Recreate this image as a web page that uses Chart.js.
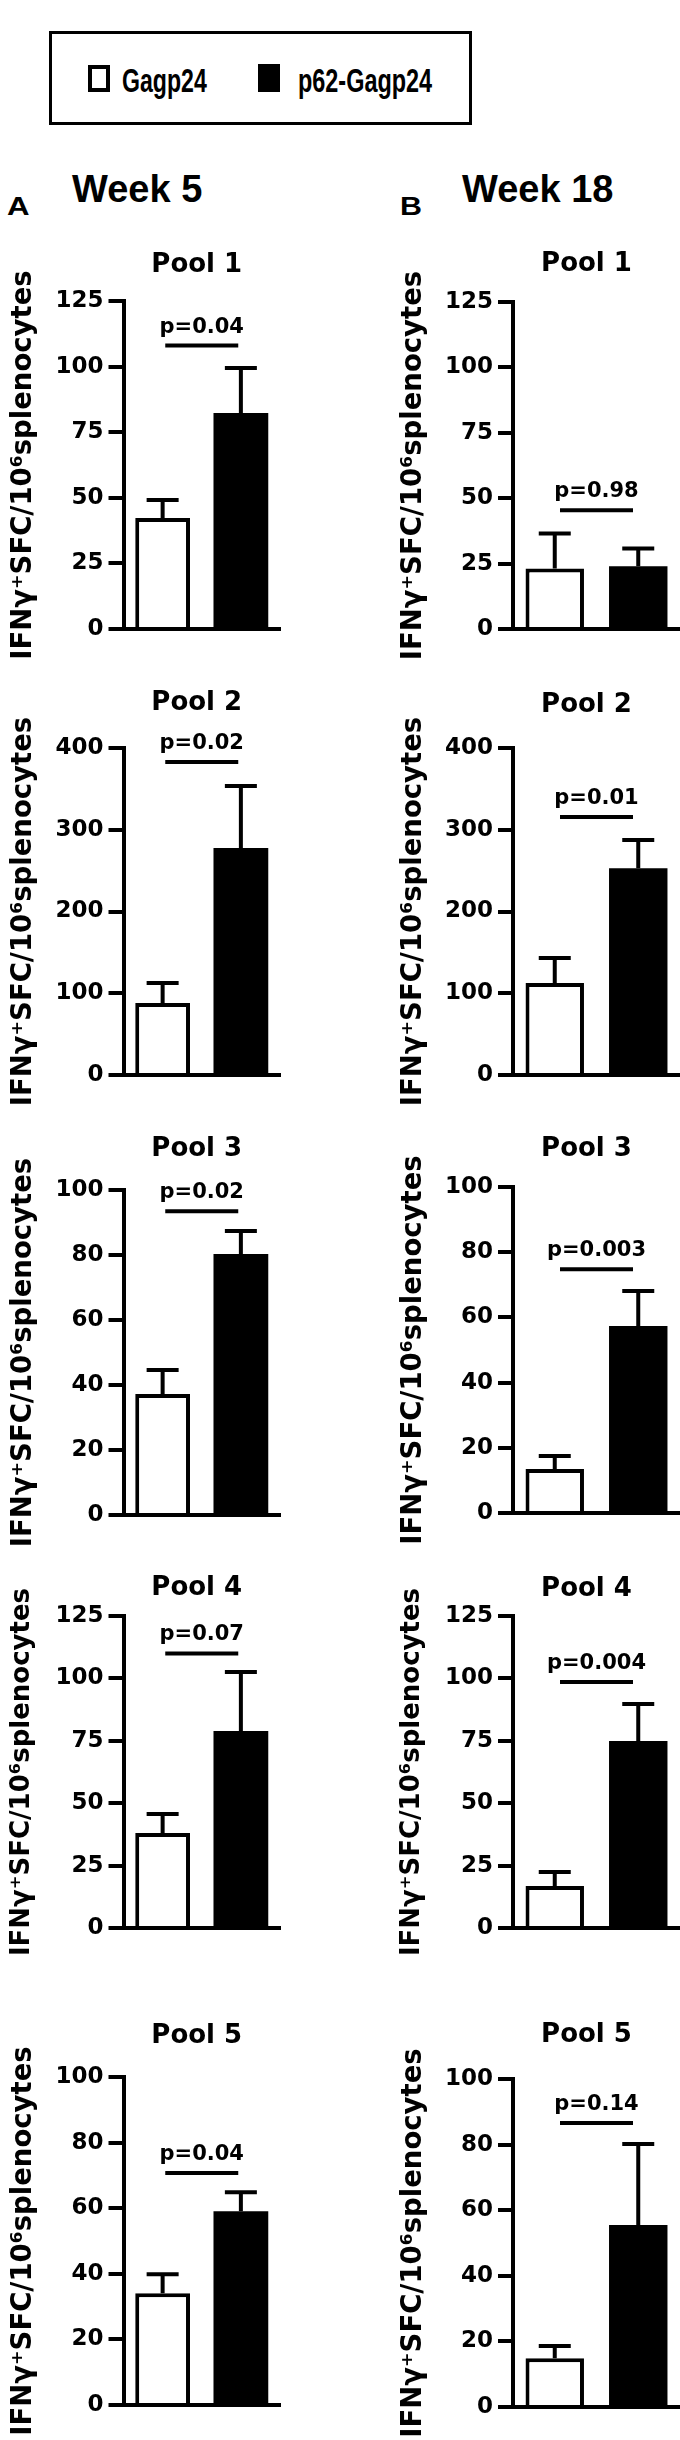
<!DOCTYPE html>
<html><head><meta charset="utf-8">
<script src="https://cdn.jsdelivr.net/npm/chart.js@4.4.1/dist/chart.umd.min.js"></script>
<style>
html,body{margin:0;padding:0;background:#fff;}
body{width:680px;height:2440px;position:relative;overflow:hidden;}
.abs{position:absolute;white-space:nowrap;color:#000;}
.lbl{font-family:'Liberation Sans',Arial,sans-serif;font-weight:bold;}
canvas{position:absolute;}
</style></head><body>
<div class="abs" style="left:49px;top:31px;width:423px;height:94px;border:3px solid #000;box-sizing:border-box;"></div>
<div class="abs" style="left:88px;top:65px;width:22px;height:27px;border:4px solid #000;box-sizing:border-box;background:#fff;"></div>
<div class="abs lbl" style="left:122px;top:64px;font-size:33px;line-height:33px;transform:scaleX(0.70);transform-origin:0 0;">Gagp24</div>
<div class="abs" style="left:258px;top:64px;width:22px;height:28px;background:#000;"></div>
<div class="abs lbl" style="left:298px;top:64px;font-size:33px;line-height:33px;transform:scaleX(0.71);transform-origin:0 0;">p62-Gagp24</div>
<div class="abs lbl" style="left:72px;top:170px;font-size:38px;line-height:38px;">Week 5</div>
<div class="abs lbl" style="left:462px;top:170px;font-size:38px;line-height:38px;">Week 18</div>
<div class="abs lbl" style="left:7px;top:193px;font-size:26px;line-height:26px;transform:scaleX(1.2);transform-origin:0 0;">A</div>
<div class="abs lbl" style="left:400px;top:193px;font-size:26px;line-height:26px;transform:scaleX(1.17);transform-origin:0 0;">B</div>
<script>
// ---- data ----
const groups = ['Gagp24', 'p62-Gagp24'];
const pools = ['Pool 1', 'Pool 2', 'Pool 3', 'Pool 4', 'Pool 5'];
const yMax = [125, 400, 100, 125, 100];
const yStep = [25, 100, 20, 25, 20];
const yTitle = 'IFNγ⁺SFC/10⁶splenocytes';

const week5Gagp24 = [42.3, 88, 37.2, 38.1, 34.1];
const week5Gagp24Sem = [6.9, 24.5, 7.4, 7.6, 5.8];
const week5P62 = [82.3, 277.7, 80.3, 78.9, 59.1];
const week5P62Sem = [17.2, 75.8, 7.1, 23.7, 5.8];
const week5P = ['p=0.04', 'p=0.02', 'p=0.02', 'p=0.07', 'p=0.04'];
const week5Bracket = [108, 383, 93.5, 110, 70.7];

const week18Gagp24 = [23.1, 112.5, 13.5, 16.8, 14.9];
const week18Gagp24Sem = [13.4, 30.5, 4.0, 5.6, 3.7];
const week18P62 = [24, 253, 57.4, 74.9, 55.5];
const week18P62Sem = [6.8, 34.5, 10.7, 14.8, 24.7];
const week18P = ['p=0.98', 'p=0.01', 'p=0.003', 'p=0.004', 'p=0.14'];
const week18Bracket = [45.4, 315.6, 74.8, 98.6, 86.6];

// ---- layout (page positions) ----
const FONT = "'DejaVu Sans', sans-serif";
const PT = 60, PB = 35;
const colA = {left: 0, width: 300, axisX: 123.5, right: 280, titleDx: -5,
  layout: [{top:301,bottom:629,titleBase:272},{top:748,bottom:1075,titleBase:710},{top:1190,bottom:1515,titleBase:1156},{top:1616,bottom:1928,titleBase:1595},{top:2077,bottom:2405,titleBase:2043}]};
const colB = {left: 390, width: 290, axisX: 513, right: 672, titleDx: -10,
  layout: [{top:302,bottom:629,titleBase:271},{top:748,bottom:1075,titleBase:712},{top:1187,bottom:1513,titleBase:1156},{top:1616,bottom:1928,titleBase:1596},{top:2079,bottom:2407,titleBase:2042}]};

const panelDecor = {
  id: 'panelDecor',
  afterDatasetsDraw(chart, args, opts) {
    const ctx = chart.ctx, ys = chart.scales.y;
    ctx.save();
    ctx.strokeStyle = '#000'; ctx.lineWidth = 4; ctx.lineCap = 'butt';
    chart.data.datasets.forEach((ds, di) => {
      const meta = chart.getDatasetMeta(di);
      meta.data.forEach((el, j) => {
        const v = ds.data[j], e = ds.sem[j];
        if (v == null || e == null) return;
        const yTop = ys.getPixelForValue(v + e);
        ctx.beginPath();
        ctx.moveTo(el.x, el.y); ctx.lineTo(el.x, yTop);
        ctx.moveTo(el.x - 16, yTop); ctx.lineTo(el.x + 16, yTop);
        ctx.stroke();
      });
    });
    ctx.restore();
  },
  afterDraw(chart, args, opts) {
    const ctx = chart.ctx, xs = chart.scales.x, ys = chart.scales.y, ca = chart.chartArea;
    ctx.save();
    const cx = (xs.getPixelForValue(0) + xs.getPixelForValue(1)) / 2;
    const by = ys.getPixelForValue(opts.bracket);
    ctx.strokeStyle = '#000'; ctx.lineWidth = 4;
    ctx.beginPath(); ctx.moveTo(cx - 36.5, by); ctx.lineTo(cx + 36.5, by); ctx.stroke();
    ctx.fillStyle = '#000';
    ctx.textAlign = 'center'; ctx.textBaseline = 'alphabetic';
    ctx.font = 'bold 21px ' + FONT;
    ctx.fillText(opts.pText, cx, by - 13);
    ctx.font = 'bold 26px ' + FONT;
    ctx.fillText(opts.title, (ca.left + ca.right) / 2 + opts.titleDx, opts.titleBase);
    ctx.restore();
  }
};

function makePanel(col, i, g1, s1, g2, s2, pTexts, brackets) {
  const L = col.layout[i];
  const H = (L.bottom - L.top) + PT + PB;
  const top = L.top - PT;
  const canvas = document.createElement('canvas');
  canvas.width = col.width; canvas.height = H;
  canvas.style.left = col.left + 'px'; canvas.style.top = top + 'px';
  canvas.style.width = col.width + 'px'; canvas.style.height = H + 'px';
  document.body.appendChild(canvas);
  const small = (L.bottom - L.top) < 320;
  new Chart(canvas, {
    type: 'bar',
    data: {
      labels: groups,
      datasets: [
        {label: groups[0], data: [g1[i], null], sem: [s1[i], null], backgroundColor: '#fff', borderColor: '#000', borderWidth: 4},
        {label: groups[1], data: [null, g2[i]], sem: [null, s2[i]], backgroundColor: '#000', borderColor: '#000', borderWidth: 0}
      ]
    },
    options: {
      responsive: false, animation: false, events: [],
      grouped: false,
      datasets: {bar: {barPercentage: 0.70, categoryPercentage: 1}},
      layout: {padding: {top: PT, bottom: PB, left: 0, right: col.width - col.right}},
      plugins: {
        legend: {display: false}, tooltip: {enabled: false}, title: {display: false},
        panelDecor: {bracket: brackets[i], pText: pTexts[i], title: pools[i], titleDx: col.titleDx, titleBase: L.titleBase - top}
      },
      scales: {
        x: {type: 'category', offset: true, z: 1,
            grid: {display: false, drawTicks: false},
            ticks: {display: false},
            border: {display: true, color: '#000', width: 4},
            afterFit(s) { s.height = 0; }},
        y: {min: 0, max: yMax[i], z: 1,
            ticks: {stepSize: yStep[i], autoSkip: false, color: '#000', padding: 5,
                    font: {family: FONT, size: 23, weight: 'bold'}},
            grid: {display: true, drawOnChartArea: false, drawTicks: true, tickLength: 15, lineWidth: 4, color: '#000'},
            border: {display: true, color: '#000', width: 4},
            title: {display: true, text: yTitle, color: '#000', padding: {top: 7, bottom: 0},
                    font: {family: FONT, size: small ? 26 : 27.5, weight: 'bold'}},
            afterFit(s) { s.width = col.axisX - col.left; }}
      }
    },
    plugins: [panelDecor]
  });
}

for (let i = 0; i < 5; i++) {
  makePanel(colA, i, week5Gagp24, week5Gagp24Sem, week5P62, week5P62Sem, week5P, week5Bracket);
  makePanel(colB, i, week18Gagp24, week18Gagp24Sem, week18P62, week18P62Sem, week18P, week18Bracket);
}
</script>
</body></html>
